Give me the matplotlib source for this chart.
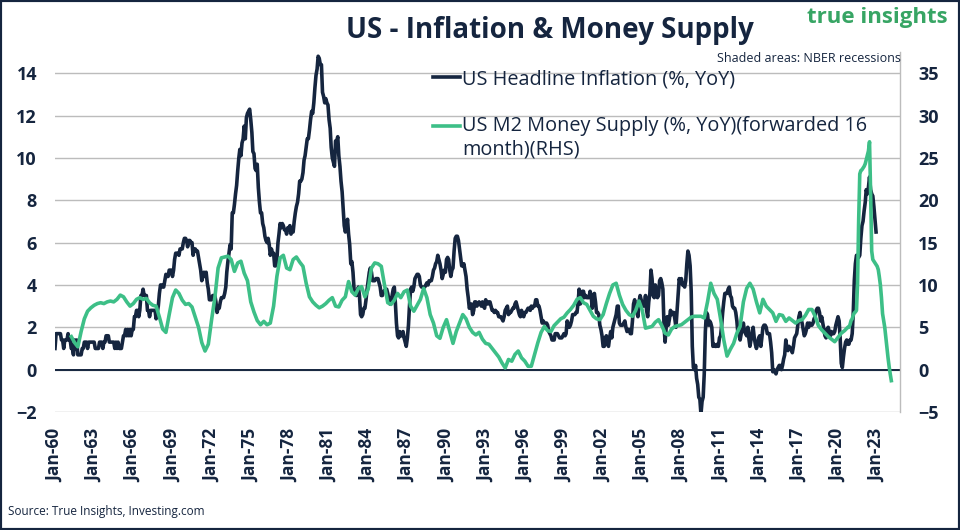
import numpy as np
import pandas as pd
import matplotlib
matplotlib.use("Agg")
import matplotlib.pyplot as plt
from matplotlib.patches import Rectangle
from matplotlib.legend_handler import HandlerLine2D

# ---------------- data ----------------
# US headline CPI inflation, % YoY, monthly from Jan 1960 to Dec 2022
cpi_start = "1960-01-01"
cpi_yoy = [
    1.0, 1.7, 1.7, 1.7, 1.7, 1.7, 1.4, 1.4, 1.0, 1.4, 1.4, 1.4,   # 1960
    1.7, 1.4, 1.4, 1.0, 1.0, 0.7, 1.4, 1.0, 1.4, 0.7, 0.7, 0.7,   # 1961
    0.7, 1.0, 1.0, 1.3, 1.3, 1.3, 1.0, 1.3, 1.3, 1.3, 1.3, 1.3,   # 1962
    1.3, 1.0, 1.0, 1.0, 1.0, 1.3, 1.3, 1.3, 1.0, 1.3, 1.3, 1.6,   # 1963
    1.6, 1.6, 1.3, 1.3, 1.3, 1.3, 1.3, 1.0, 1.3, 1.0, 1.3, 1.0,   # 1964
    1.0, 1.0, 1.3, 1.6, 1.6, 1.9, 1.6, 1.9, 1.6, 1.9, 1.6, 1.9,   # 1965
    1.9, 2.5, 2.5, 2.8, 2.8, 2.5, 2.8, 3.5, 3.5, 3.8, 3.5, 3.5,   # 1966
    3.5, 2.8, 2.8, 2.5, 2.8, 2.8, 2.8, 2.8, 2.8, 2.4, 2.7, 3.0,   # 1967
    3.6, 4.0, 4.0, 3.9, 3.9, 4.2, 4.5, 4.4, 4.4, 4.7, 4.7, 4.7,   # 1968
    4.4, 4.7, 5.2, 5.5, 5.5, 5.5, 5.4, 5.7, 5.7, 5.7, 6.0, 6.2,   # 1969
    6.2, 6.1, 5.8, 6.1, 6.1, 6.0, 6.0, 5.4, 5.7, 5.7, 5.6, 5.6,   # 1970
    5.3, 5.0, 4.7, 4.2, 4.4, 4.6, 4.4, 4.6, 4.1, 3.8, 3.3, 3.3,   # 1971
    3.3, 3.5, 3.5, 3.5, 3.2, 2.7, 2.9, 2.9, 3.2, 3.4, 3.4, 3.4,   # 1972
    3.6, 3.9, 4.6, 5.1, 5.5, 5.9, 5.7, 7.4, 7.4, 7.8, 8.3, 8.7,   # 1973
    9.4, 10.0, 10.4, 10.1, 10.7, 10.9, 11.5, 10.9, 11.9, 12.1, 12.2, 12.3,  # 1974
    11.8, 11.2, 10.3, 10.2, 9.5, 9.4, 9.7, 8.6, 7.9, 7.4, 7.4, 6.9,  # 1975
    6.7, 6.3, 6.1, 6.0, 6.2, 5.9, 5.4, 5.7, 5.5, 5.5, 4.9, 4.9,   # 1976
    5.2, 6.0, 6.4, 6.9, 6.7, 6.9, 6.8, 6.6, 6.6, 6.4, 6.7, 6.7,   # 1977
    6.8, 6.4, 6.6, 6.5, 7.0, 7.4, 7.7, 7.9, 8.3, 8.9, 8.9, 9.0,   # 1978
    9.3, 9.9, 10.1, 10.5, 10.9, 10.9, 11.3, 11.8, 12.2, 12.1, 12.6, 13.3,  # 1979
    13.9, 14.2, 14.8, 14.7, 14.4, 14.4, 13.1, 12.9, 12.6, 12.8, 12.6, 12.5,  # 1980
    11.8, 11.4, 10.5, 10.0, 9.8, 9.6, 10.8, 10.8, 11.0, 10.1, 9.6, 8.9,  # 1981
    8.4, 7.6, 6.8, 6.5, 6.7, 7.1, 6.4, 5.9, 5.0, 5.1, 4.6, 3.8,   # 1982
    3.7, 3.5, 3.6, 3.9, 3.5, 2.6, 2.5, 2.6, 2.9, 2.9, 3.3, 3.8,   # 1983
    4.2, 4.6, 4.8, 4.6, 4.2, 4.2, 4.2, 4.3, 4.3, 4.3, 4.1, 3.9,   # 1984
    3.5, 3.5, 3.7, 3.7, 3.8, 3.8, 3.6, 3.3, 3.1, 3.2, 3.5, 3.8,   # 1985
    3.9, 3.1, 2.2, 1.6, 1.5, 1.8, 1.6, 1.6, 1.8, 1.5, 1.3, 1.1,   # 1986
    1.5, 2.1, 3.0, 3.8, 3.9, 3.7, 3.9, 4.3, 4.4, 4.5, 4.5, 4.4,   # 1987
    4.0, 3.9, 3.9, 3.9, 3.9, 4.0, 4.1, 4.0, 4.2, 4.2, 4.2, 4.4,   # 1988
    4.7, 4.8, 5.0, 5.1, 5.4, 5.2, 5.0, 4.7, 4.3, 4.5, 4.7, 4.6,   # 1989
    5.2, 5.3, 5.2, 4.7, 4.4, 4.7, 4.8, 5.6, 6.2, 6.3, 6.3, 6.1,   # 1990
    5.7, 5.3, 4.9, 4.9, 5.0, 4.7, 4.4, 3.8, 3.4, 2.9, 3.0, 3.1,   # 1991
    2.6, 2.8, 3.2, 3.2, 3.0, 3.1, 3.2, 3.1, 3.0, 3.2, 3.0, 2.9,   # 1992
    3.3, 3.2, 3.1, 3.2, 3.2, 3.0, 2.8, 2.8, 2.7, 2.8, 2.7, 2.7,   # 1993
    2.5, 2.5, 2.5, 2.4, 2.3, 2.5, 2.8, 2.9, 3.0, 2.6, 2.7, 2.7,   # 1994
    2.8, 2.9, 2.9, 3.1, 3.2, 3.0, 2.8, 2.6, 2.5, 2.8, 2.6, 2.5,   # 1995
    2.7, 2.7, 2.8, 2.9, 2.9, 2.8, 3.0, 2.9, 3.0, 3.0, 3.3, 3.3,   # 1996
    3.0, 3.0, 2.8, 2.5, 2.2, 2.3, 2.2, 2.2, 2.2, 2.1, 1.8, 1.7,   # 1997
    1.6, 1.4, 1.4, 1.4, 1.7, 1.7, 1.7, 1.6, 1.5, 1.5, 1.5, 1.6,   # 1998
    1.7, 1.6, 1.7, 2.3, 2.1, 2.0, 2.1, 2.3, 2.6, 2.6, 2.6, 2.7,   # 1999
    2.7, 3.2, 3.8, 3.1, 3.2, 3.7, 3.7, 3.4, 3.5, 3.4, 3.4, 3.4,   # 2000
    3.7, 3.5, 2.9, 3.3, 3.6, 3.2, 2.7, 2.7, 2.6, 2.1, 1.9, 1.6,   # 2001
    1.1, 1.1, 1.5, 1.6, 1.2, 1.1, 1.5, 1.8, 1.5, 2.0, 2.2, 2.4,   # 2002
    2.6, 3.0, 3.0, 2.2, 2.1, 2.1, 2.1, 2.2, 2.3, 2.0, 1.8, 1.9,   # 2003
    1.9, 1.7, 1.7, 2.3, 3.1, 3.3, 3.0, 2.7, 2.5, 3.2, 3.5, 3.3,   # 2004
    3.0, 3.0, 3.1, 3.5, 2.8, 2.5, 3.2, 3.6, 4.7, 4.3, 3.5, 3.4,   # 2005
    4.0, 3.6, 3.4, 3.5, 4.2, 4.3, 4.1, 3.8, 2.1, 1.3, 2.0, 2.5,   # 2006
    2.1, 2.4, 2.8, 2.6, 2.7, 2.7, 2.4, 2.0, 2.8, 3.5, 4.3, 4.1,   # 2007
    4.3, 4.0, 4.0, 3.9, 4.2, 5.0, 5.6, 5.4, 4.9, 3.7, 1.1, 0.1,   # 2008
    0.0, 0.2, -0.4, -0.7, -1.3, -1.4, -2.1, -1.5, -1.3, -0.2, 1.8, 2.7,  # 2009
    2.6, 2.1, 2.3, 2.2, 2.0, 1.1, 1.2, 1.1, 1.1, 1.2, 1.1, 1.5,   # 2010
    1.6, 2.1, 2.7, 3.2, 3.6, 3.6, 3.6, 3.8, 3.9, 3.5, 3.4, 3.0,   # 2011
    2.9, 2.9, 2.7, 2.3, 1.7, 1.7, 1.4, 1.7, 2.0, 2.2, 1.8, 1.7,   # 2012
    1.6, 2.0, 1.5, 1.1, 1.4, 1.8, 2.0, 1.5, 1.2, 1.0, 1.2, 1.5,   # 2013
    1.6, 1.1, 1.5, 2.0, 2.1, 2.1, 2.0, 1.7, 1.7, 1.7, 1.3, 0.8,   # 2014
    -0.1, 0.0, -0.1, -0.2, 0.0, 0.1, 0.2, 0.2, 0.0, 0.2, 0.5, 0.7,  # 2015
    1.4, 1.0, 0.9, 1.1, 1.0, 1.0, 0.8, 1.1, 1.5, 1.6, 1.7, 2.1,   # 2016
    2.5, 2.7, 2.4, 2.2, 1.9, 1.6, 1.7, 1.9, 2.2, 2.0, 2.2, 2.1,   # 2017
    2.1, 2.2, 2.4, 2.5, 2.8, 2.9, 2.9, 2.7, 2.3, 2.5, 2.2, 1.9,   # 2018
    1.6, 1.5, 1.9, 2.0, 1.8, 1.6, 1.8, 1.7, 1.7, 1.8, 2.1, 2.3,   # 2019
    2.5, 2.3, 1.5, 0.3, 0.1, 0.6, 1.0, 1.3, 1.4, 1.2, 1.2, 1.4,   # 2020
    1.4, 1.7, 2.6, 4.2, 5.0, 5.4, 5.4, 5.3, 5.4, 6.2, 6.8, 7.0,   # 2021
    7.5, 7.9, 8.5, 8.3, 8.6, 9.1, 8.5, 8.3, 8.2, 7.7, 7.1, 6.5,   # 2022
]

# US M2 money supply, % YoY, forwarded 16 months (plotted dates)
# quarterly readings from Q2 1961 to Q3 2020
m2_q_start = "1961-04-01"
m2_fwd_quarterly = [
    3.9, 3.2, 2.7,                 # 1961 Q2-Q4
    4.5, 6.0, 6.9, 7.3,            # 1962
    7.6, 7.8, 7.9, 7.8,            # 1963
    8.0, 8.1, 8.0, 8.3,            # 1964
    8.8, 8.6, 8.0, 7.5,            # 1965
    7.8, 8.3, 8.5, 8.3,            # 1966
    8.4, 7.9, 7.6, 7.5,            # 1967
    6.2, 4.8, 4.4, 6.5,            # 1968
    8.5, 9.4, 9.0, 8.2,            # 1969
    7.7, 7.8, 7.4, 6.2,            # 1970
    5.0, 3.2, 2.2, 3.0,            # 1971
    5.9, 8.5, 12.0, 13.2,          # 1972
    13.3, 13.4, 13.0, 11.6,        # 1973
    12.6, 12.8, 11.4, 10.5,        # 1974
    8.0, 6.8, 5.8, 5.3,            # 1975
    5.7, 5.3, 5.5, 7.5,            # 1976
    11.0, 13.2, 13.5, 12.0,        # 1977
    11.8, 13.0, 13.3, 12.7,        # 1978
    12.2, 10.2, 8.6, 8.0,          # 1979
    7.6, 7.3, 7.5, 7.8,            # 1980
    8.2, 8.5, 7.5, 7.4,            # 1981
    8.2, 8.6, 10.4, 9.2,           # 1982
    8.8, 9.6, 9.8, 8.6,            # 1983
    9.5, 12.0, 12.6, 12.5,         # 1984
    12.2, 10.0, 7.9, 7.7,          # 1985
    8.2, 9.0, 8.5, 9.2,            # 1986
    9.4, 7.5, 6.9, 7.6,            # 1987
    8.3, 9.6, 8.5, 6.5,            # 1988
    5.5, 4.0, 3.7, 5.0,            # 1989
    5.9, 4.5, 3.1, 4.5,            # 1990
    5.5, 6.5, 6.0, 5.0,            # 1991
    4.4, 4.1, 4.4, 3.6,            # 1992
    3.1, 3.0, 2.5, 2.0,            # 1993
    1.5, 0.8, 0.2, 1.2,            # 1994
    1.0, 1.8, 2.2, 1.4,            # 1995
    1.0, 0.4, 0.4, 1.8,            # 1996
    3.2, 4.4, 5.1, 4.6,            # 1997
    4.5, 5.2, 5.6, 6.0,            # 1998
    6.2, 6.7, 7.1, 7.6,            # 1999
    8.3, 8.5, 7.9, 7.7,            # 2000
    7.0, 6.3, 6.0, 5.9,            # 2001
    6.5, 7.8, 9.0, 10.0,           # 2002
    10.2, 8.8, 7.7, 7.0,           # 2003
    6.5, 6.3, 7.0, 8.1,            # 2004
    7.0, 4.9, 5.0, 5.1,            # 2005
    5.6, 5.9, 5.2, 4.3,            # 2006
    4.1, 4.8, 5.1, 5.2,            # 2007
    5.3, 5.6, 5.9, 6.2,            # 2008
    6.3, 6.3, 6.3, 6.1,            # 2009
    8.0, 10.2, 9.0, 8.3,           # 2010
    6.0, 3.5, 1.6, 2.4,            # 2011
    3.1, 4.3, 5.1, 8.0,            # 2012
    9.6, 10.2, 9.5, 8.0,           # 2013
    6.7, 8.3, 7.5, 7.1,            # 2014
    6.7, 5.7, 6.5, 6.4,            # 2015
    5.7, 6.1, 5.8, 5.5,            # 2016
    5.8, 5.9, 6.4, 7.1,            # 2017
    7.1, 6.3, 5.2, 4.7,            # 2018
    4.3, 3.9, 3.6, 3.3,            # 2019
    3.8, 4.3, 4.6,                 # 2020 Q1-Q3
]
# monthly readings from Oct 2020 to Feb 2024
m2_m_start = "2020-10-01"
m2_fwd_monthly = [
    5.0, 5.0, 5.3,                                                      # 2020
    5.8, 6.0, 6.4, 6.7, 6.8, 7.0, 10.2, 17.6, 23.1, 23.5, 23.6, 23.8,   # 2021
    24.0, 24.3, 24.8, 25.3, 25.8, 26.9, 21.0, 14.0, 13.0, 12.8, 12.6, 12.4,  # 2022
    12.2, 11.8, 11.0, 10.0, 8.5, 6.6, 5.8, 5.0, 3.8, 2.6, 1.4, 0.4,     # 2023
    -0.5, -1.3,                                                         # 2024
]

tick_years = list(range(1960, 2024, 3))
left_ticks = list(range(-2, 15, 2))
right_ticks = list(range(-5, 36, 5))

label_cpi = "US Headline Inflation (%, YoY)"
label_m2 = "US M2 Money Supply (%, YoY)(forwarded 16\nmonth)(RHS)"

# ---------------- styling ----------------
NAVY = "#15253f"
GREEN = "#3dbf87"
LOGO_GREEN = "#37a564"
GRID = "#bcbcbc"

plt.rcParams["font.family"] = ["Open Sans", "DejaVu Sans"]


class HandlerFirstLine(HandlerLine2D):
    """Legend line aligned with the first line of a multi-line label."""
    def __init__(self, shift=0.0, **kw):
        super().__init__(**kw)
        self.shift = shift

    def create_artists(self, legend, orig_handle, xdescent, ydescent, width,
                       height, fontsize, trans):
        arts = super().create_artists(legend, orig_handle, xdescent, ydescent,
                                      width, height, fontsize, trans)
        for a in arts:
            a.set_ydata(np.asarray(a.get_ydata()) + self.shift * fontsize)
        return arts


cpi_dates = pd.date_range(cpi_start, periods=len(cpi_yoy), freq="MS")
m2_dates = pd.date_range(m2_q_start, periods=len(m2_fwd_quarterly), freq="QS").append(
    pd.date_range(m2_m_start, periods=len(m2_fwd_monthly), freq="MS"))
m2_vals = list(m2_fwd_quarterly) + list(m2_fwd_monthly)

fig = plt.figure(figsize=(9.6, 5.3), dpi=100)
ax = fig.add_axes([55 / 960, 1 - 412 / 530, 845 / 960, 360 / 530])
ax2 = ax.twinx()

l1, = ax.plot(cpi_dates, cpi_yoy, color=NAVY, lw=2.6, label=label_cpi, solid_joinstyle="round")
l2, = ax2.plot(m2_dates, m2_vals, color=GREEN, lw=2.6, label=label_m2, solid_joinstyle="round")

ax.set_ylim(-2, 15)
ax2.set_ylim(-5, 37.5)
ax.set_yticks(left_ticks)
ax2.set_yticks(right_ticks)
ax.set_xlim(pd.Timestamp("1960-01-01"), pd.Timestamp("2024-10-01"))
ax.set_xticks([pd.Timestamp(f"{y}-01-01") for y in tick_years])
ax.set_xticklabels([f"Jan-{y % 100:02d}" for y in tick_years], rotation=90)

ax.yaxis.grid(True, color=GRID, lw=1.0)
ax.set_axisbelow(True)
ax.axhline(0, color=NAVY, lw=1.4, zorder=1.5)

for a in (ax, ax2):
    for s in a.spines.values():
        s.set_visible(False)
ax2.spines["right"].set_visible(True)
ax2.spines["right"].set_color(GRID)
ax2.spines["right"].set_linewidth(1.0)

ax.tick_params(axis="y", length=0, pad=13, labelsize=13, labelcolor=NAVY)
ax.tick_params(axis="x", length=0, pad=12, labelsize=12.5, labelcolor=NAVY)
ax2.tick_params(axis="y", length=0, pad=13, labelsize=13, labelcolor=NAVY)
for lab in ax.get_xticklabels() + ax.get_yticklabels() + ax2.get_yticklabels():
    lab.set_fontweight("bold")

leg = ax2.legend([l1, l2], [label_cpi, label_m2], loc="upper left",
                 bbox_to_anchor=(0.447, 0.952), frameon=False, fontsize=14.3,
                 handlelength=1.35, handletextpad=0.12, labelspacing=1.35,
                 borderaxespad=0, borderpad=0, labelcolor=NAVY,
                 handler_map={l2: HandlerFirstLine(shift=0.6)})

fig.text(0.573, 0.943, "US - Inflation & Money Supply", ha="center", va="center",
         fontsize=20, fontweight="bold", color=NAVY)
fig.text(948 / 960, 1 - 18 / 530, "true insights", ha="right", va="center",
         fontsize=16, fontweight="bold", color=LOGO_GREEN)
fig.text(901 / 960, 1 - 58 / 530, "Shaded areas: NBER recessions", ha="right", va="center",
         fontsize=9, color=NAVY)
fig.text(8 / 960, 1 - 512 / 530, "Source: True Insights, Investing.com", ha="left", va="center",
         fontsize=8.5, color=NAVY)

fig.patches.append(Rectangle((0, 0), 1, 1, transform=fig.transFigure, fill=False,
                             edgecolor=NAVY, lw=3, zorder=10))

fig.savefig("out.png", dpi=100)
